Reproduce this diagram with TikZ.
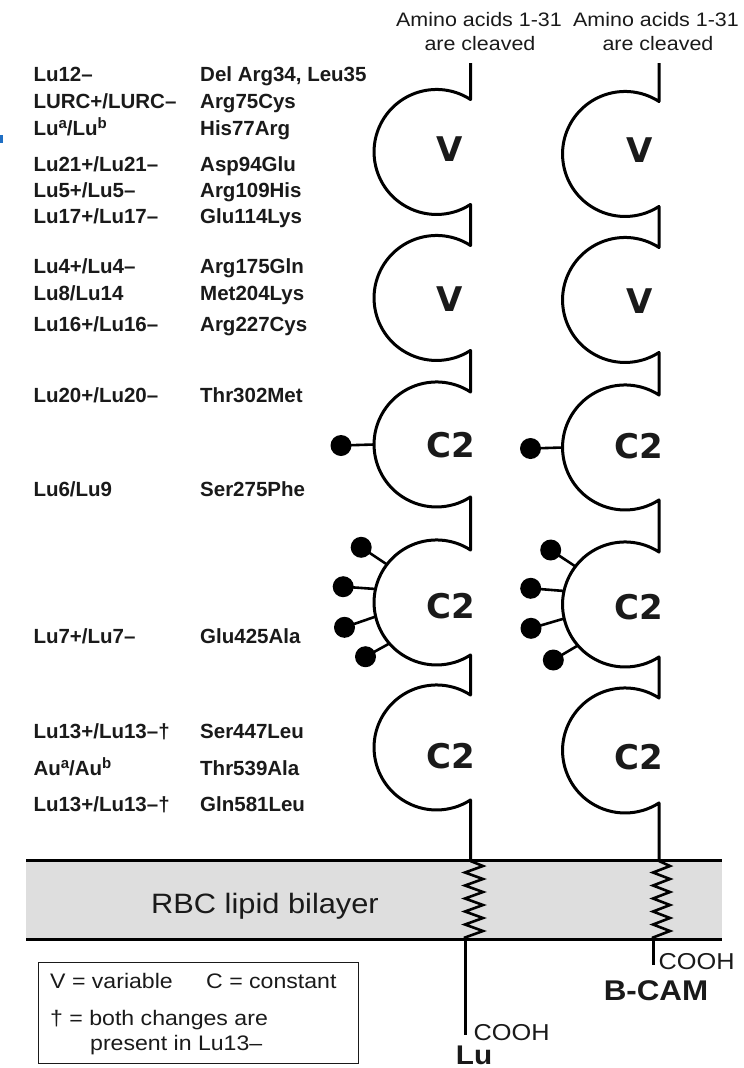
\documentclass[tikz,border=0pt]{standalone}
\usepackage{fontspec}
\usetikzlibrary{calc}
\setmainfont{Liberation Sans}
\newfontfamily\widesans[FakeStretch=1.1]{Liberation Sans}
\newfontfamily\domainfont{DejaVu Sans}
\newcommand\supl[1]{\raisebox{7pt}{\fontsize{15}{15}\selectfont #1}}
\definecolor{ink}{HTML}{1A1A1A}
\definecolor{membrane}{HTML}{DEDEDE}
\definecolor{tabmark}{HTML}{1F6FC4}

\tikzset{
  varlab/.style={anchor=base west, inner sep=0pt, text=ink,
    font=\fontsize{20.5}{24}\selectfont\bfseries},
  note/.style={anchor=base, inner sep=0pt, text=ink,
    font=\widesans\fontsize{19.5}{24}\selectfont},
  legtext/.style={anchor=base west, inner sep=0pt, text=ink,
    font=\widesans\fontsize{21}{24}\selectfont},
  domlab/.style={inner sep=0pt, text=ink,
    font=\domainfont\fontsize{34}{36}\selectfont\bfseries},
  chainline/.style={line width=3pt, line join=round},
  coil/.style={line width=2.6pt, line join=miter},
  tail/.style={line width=3pt},
  stick/.style={line width=2.6pt},
  dot/.style={fill=black},
  bilayer/.style={line width=3.2pt},
}

% attach a sugar chain to a domain of radius 62.5 centred at #1:
% #2 = angle of the attachment point, #3 = offset of the ball from the centre
\newcommand\sugar[4]{%
  \coordinate (#4a) at ($(#1)+(#2:62.5)$);
  \coordinate (#4b) at ($(#1)+(#3)$);
  \draw[stick] (#4a) -- (#4b);
  \fill[dot] (#4b) circle (10.5);
}

\begin{document}
\begin{tikzpicture}[x=1pt,y=-1pt]
\useasboundingbox (0,0) rectangle (744,1068);
\fill[white] (0,0) rectangle (744,1068);
\fill[tabmark] (0,135) rectangle (3,143);

% ---- membrane ----
\fill[membrane] (26,860.7) rectangle (722,939.3);
\draw[bilayer] (26,860.7) -- (722,860.7);
\draw[bilayer] (26,939.3) -- (722,939.3);
\node[anchor=base, inner sep=0pt, text=ink, font=\widesans\fontsize{28}{30}\selectfont]
  (rbc) at (265,913.3) {RBC lipid bilayer};

% ---- Lu chain ----
\draw[chainline] (470.5,63)
  foreach \c in {152,298,444.5,602.5,747.5}{
    -- ({470.5},{\c-52.5}) arc[start angle=-57.1,end angle=-302.9,radius=62.5]
  } -- (470.5,861);
\draw[coil] (470.5,861) -- (483,866) -- (465,872.5) -- (483,879) -- (465,885.5)
  -- (483,892) -- (465,898.5) -- (483,905) -- (465,911.5) -- (483,918)
  -- (465,924.5) -- (483,931) -- (465,937.5) -- (465,940);
\draw[tail] (465,939) -- (465,1035);

% ---- B-CAM chain ----
\draw[chainline] (659,63)
  foreach \c in {154,300,447.5,604.5,750.5}{
    -- ({659},{\c-52.5}) arc[start angle=-57.1,end angle=-302.9,radius=62.5]
  } -- (659,861);
\draw[coil] (659,861) -- (670,866) -- (653,872.5) -- (670,879) -- (653,885.5)
  -- (670,892) -- (653,898.5) -- (670,905) -- (653,911.5) -- (670,918)
  -- (653,924.5) -- (670,931) -- (653,937.5) -- (653,940);
\draw[tail] (653,939) -- (653,965);

% ---- domain centres ----
\coordinate (luC1) at (436.5,444.5);
\coordinate (luC2) at (436.5,602.5);
\coordinate (bcC1) at (625,447.5);
\coordinate (bcC2) at (625,604.5);

% ---- sugar chains ----
\sugar{luC1}{180}{-95.5,1}{luS}
\sugar{bcC1}{180}{-94.5,1}{bcS}
\sugar{luC2}{217.5}{-75.3,-55.2}{luA}
\sugar{luC2}{192.5}{-93.3,-15.8}{luB}
\sugar{luC2}{167}{-92,24.8}{luD}
\sugar{luC2}{139}{-71,54.2}{luE}
\sugar{bcC2}{217.5}{-74.3,-54.5}{bcA}
\sugar{bcC2}{192.5}{-94.3,-16.2}{bcB}
\sugar{bcC2}{167}{-94,23.8}{bcD}
\sugar{bcC2}{139}{-71.7,55.5}{bcE}

% ---- domain labels ----
\node[domlab] (luV1) at (450,149) {V};
\node[domlab] (luV2) at (450,299) {V};
\node[domlab] (luK1) at (451,445) {C2};
\node[domlab] (luK2) at (451,606) {C2};
\node[domlab] (luK3) at (451,756) {C2};
\node[domlab] (bcV1) at (640,150) {V};
\node[domlab] (bcV2) at (640,301.5) {V};
\node[domlab] (bcK1) at (639,446) {C2};
\node[domlab] (bcK2) at (639,607.5) {C2};
\node[domlab] (bcK3) at (639,757.5) {C2};

% ---- N-terminal notes ----
\node[note] (luN1) at (479,26.7) {Amino acids 1-31};
\node[note] (luN2) at (480,50.7) {are cleaved};
\node[note] (bcN1) at (656,26.7) {Amino acids 1-31};
\node[note] (bcN2) at (658,50.7) {are cleaved};

% ---- C-termini ----
\node[anchor=base west, inner sep=0pt, text=ink, font=\widesans\fontsize{23}{24}\selectfont]
  (luCOOH) at (473.5,1040) {COOH};
\node[anchor=base west, inner sep=0pt, text=ink, font=\widesans\fontsize{23}{24}\selectfont]
  (bcCOOH) at (658.5,969) {COOH};
\node[anchor=base, inner sep=0pt, text=ink, font=\widesans\fontsize{28.5}{30}\selectfont\bfseries]
  (bcName) at (656,1000) {B-CAM};
\node[anchor=base, inner sep=0pt, text=ink, font=\widesans\fontsize{27}{30}\selectfont\bfseries]
  (luName) at (474,1064) {Lu};

% ---- antigen / substitution table ----
\node[varlab] (a1) at (33.3,81.7) {Lu12–};
\node[varlab] (b1) at (200,81.7) {Del Arg34, Leu35};
\node[varlab] (a2) at (33.3,108.3) {LURC+/LURC–};
\node[varlab] (b2) at (200,108.3) {Arg75Cys};
\node[varlab] (a3) at (33.3,135) {Lu\supl{a}/Lu\supl{b}};
\node[varlab] (b3) at (200,135) {His77Arg};
\node[varlab] (a4) at (33.3,171.7) {Lu21+/Lu21–};
\node[varlab] (b4) at (200,171.7) {Asp94Glu};
\node[varlab] (a5) at (33.3,197.7) {Lu5+/Lu5–};
\node[varlab] (b5) at (200,197.7) {Arg109His};
\node[varlab] (a6) at (33.3,223.3) {Lu17+/Lu17–};
\node[varlab] (b6) at (200,223.3) {Glu114Lys};
\node[varlab] (a7) at (33.3,273.3) {Lu4+/Lu4–};
\node[varlab] (b7) at (200,273.3) {Arg175Gln};
\node[varlab] (a8) at (33.3,300) {Lu8/Lu14};
\node[varlab] (b8) at (200,300) {Met204Lys};
\node[varlab] (a9) at (33.3,331.7) {Lu16+/Lu16–};
\node[varlab] (b9) at (200,331.7) {Arg227Cys};
\node[varlab] (a10) at (33.3,402.7) {Lu20+/Lu20–};
\node[varlab] (b10) at (200,402.7) {Thr302Met};
\node[varlab] (a11) at (33.3,496.7) {Lu6/Lu9};
\node[varlab] (b11) at (200,496.7) {Ser275Phe};
\node[varlab] (a12) at (33.3,643.3) {Lu7+/Lu7–};
\node[varlab] (b12) at (200,643.3) {Glu425Ala};
\node[varlab] (a13) at (33.3,738.3) {Lu13+/Lu13–†};
\node[varlab] (b13) at (200,738.3) {Ser447Leu};
\node[varlab] (a14) at (33.3,775) {Au\supl{a}/Au\supl{b}};
\node[varlab] (b14) at (200,775) {Thr539Ala};
\node[varlab] (a15) at (33.3,811.7) {Lu13+/Lu13–†};
\node[varlab] (b15) at (200,811.7) {Gln581Leu};

% ---- key ----
\node[draw=ink, line width=1.3pt, anchor=north west, minimum width=320pt,
  minimum height=101.3pt, inner sep=0pt] (key) at (38,961.7) {};
\node[legtext] (k1) at (50,988) {V = variable};
\node[legtext] (k2) at (206,988) {C = constant};
\node[legtext] (k3) at (50,1025) {† = both changes are};
\node[legtext] (k4) at (90,1050) {present in Lu13–};
\end{tikzpicture}
\end{document}
